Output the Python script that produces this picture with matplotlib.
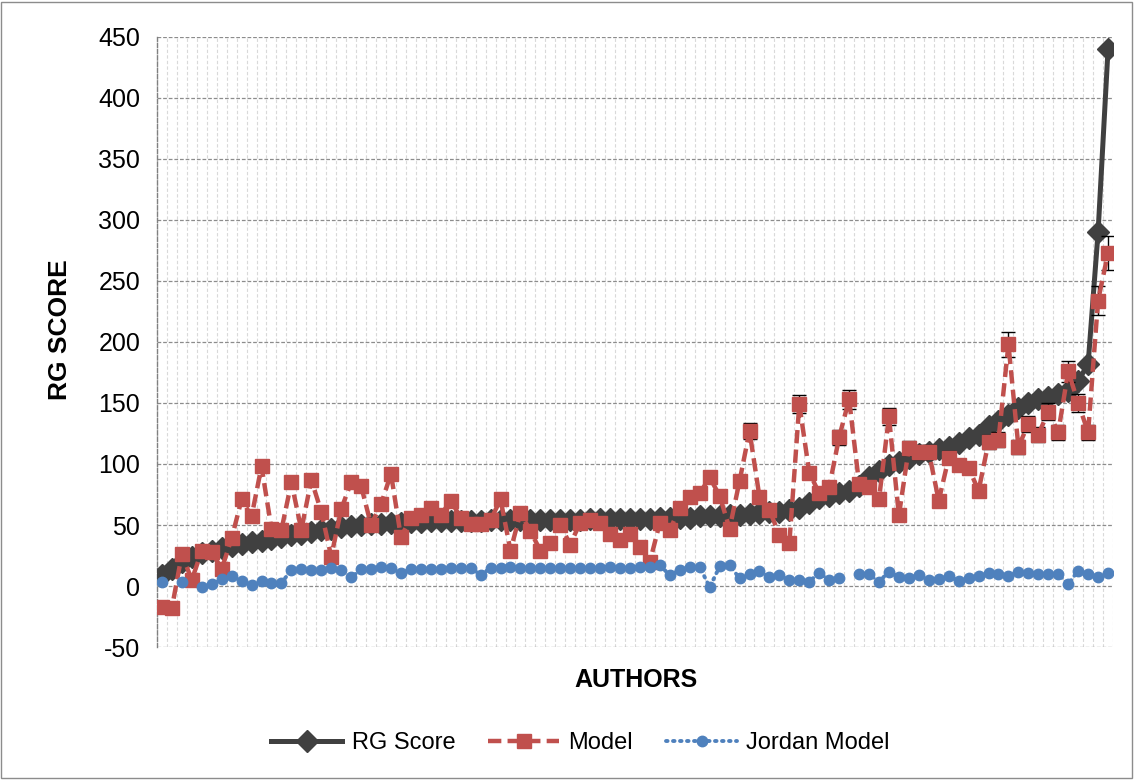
import numpy as np
import matplotlib
matplotlib.use("Agg")
import matplotlib.pyplot as plt
from matplotlib.patches import Rectangle
from matplotlib.lines import Line2D

# ── data (96 authors, sorted by RG score) ──
rg_score = [
    9, 14, 20, 24, 27, 29, 31, 33, 34.5, 36, 37, 38.5, 40, 42, 43, 44.5,
    45.5, 47, 48, 49, 50, 50.5, 51, 52, 52, 52.5, 52.5, 53, 53, 53, 53, 53.5,
    53.5, 54, 54, 54, 54, 54, 54, 54.5, 54.5, 54.5, 54.5, 55, 55, 55, 55, 55,
    55, 55, 55.5, 55.5, 56, 56, 57, 57, 57.5, 58, 58.5, 59, 60, 60.5,
    61, 62, 64, 68, 72, 74, 76, 78, 82, 89, 94, 99, 102, 105, 108, 110,
    112, 114, 117, 121, 124, 131, 135, 140, 146, 150, 153, 155, 157, 160, 168, 182,
    290, 440,
]
model = [
    -17, -18, 26, 5, 29, 28, 14, 39, 71, 57, 98, 47, 46, 85, 46, 87,
    61, 24, 63, 85, 82, 50, 67, 92, 40, 56, 58, 64, 58, 70, 56, 51,
    51, 54, 71, 29, 60, 45, 29, 35, 50, 34, 52, 54, 52, 43, 38, 43,
    32, 20, 52, 46, 64, 73, 76, 89, 74, 47, 86, 127, 73, 62, 42, 35,
    149, 93, 76, 81, 122, 153, 84, 81, 71, 139, 58, 113, 110, 110, 70, 105,
    99, 97, 78, 118, 120, 198, 114, 133, 124, 143, 126, 176, 150, 126, 234, 273,
]
jordan = [
    3, None, 3, None, -1, 1.5, 6, 8, 4.5, 0.5, 4.5, 2.7, 2.7, 13, 14, 13.4,
    13.4, 15, 13, 7, 13.6, 13.6, 15.6, 15, 10.7, 13.6, 13.6, 13.6, 13.6, 15, 15, 15,
    9, 14.8, 14.8, 15.6, 14.8, 14.8, 14.8, 14.8, 14.8, 14.8, 14.8, 14.8, 14.8, 15.6, 14.8, 14.8,
    15.6, 15.6, 17, 8.8, 13.4, 15.6, 15.6, -1, 16, 17, 6.3, 9.5, 12.5, 7.4,
    9, 4.6, 4.6, 3.6, 11, 4.6, 6.8, None, 9.6, 9.6, 3.6, 11.7, 7.4, 6.3, 9, 4.6,
    5.5, 8.2, 4.1, 6.8, 8.2, 10.9, 9.7, 8, 11.8, 10.3, 9.7, 9.7, 9.7, 1.5, 12.6, 9.7,
    7.4, 11,
]
y_ticks = [-50, 0, 50, 100, 150, 200, 250, 300, 350, 400, 450]

rg_score = np.array(rg_score, dtype=float)
model = np.array(model, dtype=float)
jordan = np.array([np.nan if v is None else v for v in jordan], dtype=float)
x = np.arange(len(rg_score))

DARK, RED, BLUE = "#404040", "#C0504D", "#4F81BD"
rg_style = dict(color=DARK, lw=3.6, marker="D", ms=11)
model_style = dict(color=RED, lw=3.2, ls=(0, (3, 1.4)), marker="s", ms=10)
jordan_style = dict(color=BLUE, lw=2.8, ls=(0, (0.4, 1.4)), dash_capstyle="round",
                    marker="o", ms=7.5)

# ── figure ───────────────────────────────────────────────
plt.rcParams["font.family"] = ["Liberation Sans", "DejaVu Sans"]
plt.rcParams["axes.unicode_minus"] = False

fig = plt.figure(figsize=(11.34, 7.80), dpi=100)
ax = fig.add_axes([0.1384, 0.1705, 0.9815 - 0.1384, 0.9526 - 0.1705])

ax.plot(x, rg_score, zorder=3, **rg_style)
ax.errorbar(x, model, yerr=0.05 * np.abs(model), ecolor="black",
            elinewidth=1, capsize=5, capthick=1, zorder=4, **model_style)
ax.plot(x, jordan, zorder=5, **jordan_style)

ax.set_xlim(-0.5, len(x) - 0.5)
ax.set_ylim(-50, 450)
ax.set_yticks(y_ticks)
ax.set_xticks([])
ax.tick_params(axis="y", length=0, labelsize=18, pad=12)

# gridlines: dashed horizontal majors, light vertical ones between authors
for v in y_ticks:
    ax.axhline(v, color="#8c8c8c", lw=0.9, ls=(0, (3, 1.5)), zorder=1)
for b in np.arange(len(x) + 1) - 0.5:
    ax.axvline(b, color="#d9d9d9", lw=0.8, ls=(0, (3, 2)), zorder=0.5)

for s in ["top", "right", "bottom"]:
    ax.spines[s].set_visible(False)
ax.spines["left"].set_color("#808080")
ax.spines["left"].set_linestyle((0, (3, 1.5)))
ax.spines["left"].set_linewidth(1)

fig.text(60 / 1134, 1 - 330 / 780, "RG SCORE", rotation=90, ha="center",
         va="center", fontsize=19, fontweight="bold")
fig.text(636 / 1134, 1 - 680 / 780, "AUTHORS", ha="center", va="center",
         fontsize=18, fontweight="bold")

handles = [Line2D([], [], **rg_style), Line2D([], [], **model_style),
           Line2D([], [], **jordan_style)]
labels = ["RG Score", "Model", "Jordan Model"]
fig.legend(handles, labels, loc="center", bbox_to_anchor=(0.512, 1 - 743 / 780),
           ncol=3, frameon=False, fontsize=17, handlelength=3.0,
           columnspacing=1.4, handletextpad=0.4)

fig.patches.append(Rectangle((0.001, 0.002), 0.997, 0.996, transform=fig.transFigure,
                             fill=False, edgecolor="#8c8c8c", lw=1))

fig.savefig("out.png", dpi=100)
